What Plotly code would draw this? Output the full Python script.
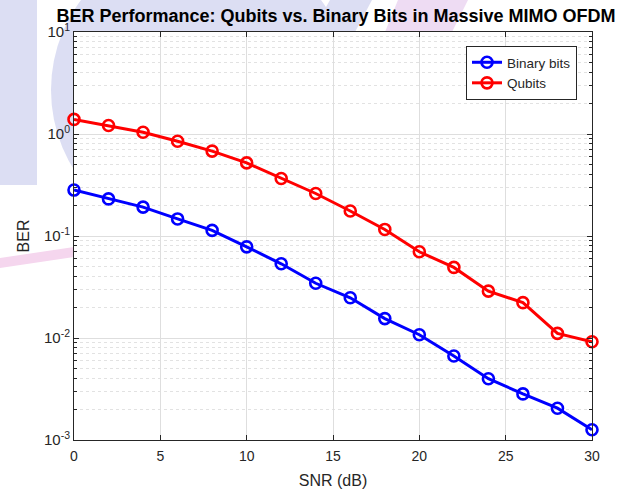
import plotly.graph_objects as go

snr = [0, 2, 4, 6, 8, 10, 12, 14, 16, 18, 20, 22, 24, 26, 28, 30]
ber_binary = [0.282, 0.231, 0.192, 0.147, 0.1135, 0.0783, 0.0534, 0.0344,
              0.0248, 0.0155, 0.01076, 0.00667, 0.00399, 0.00283, 0.00205, 0.00126]
ber_qubits = [1.39, 1.21, 1.04, 0.85, 0.68, 0.521, 0.366, 0.261,
              0.176, 0.116, 0.070, 0.0492, 0.0288, 0.0222, 0.0111, 0.0092]

y_tick_vals = [1e-3, 1e-2, 1e-1, 1e0, 1e1]
y_tick_text = ["10<sup>-3</sup>", "10<sup>-2</sup>", "10<sup>-1</sup>",
               "10<sup>0</sup>", "10<sup>1</sup>"]
y_minor_vals = [k * 10.0 ** e for e in range(-3, 1) for k in range(2, 10)]

FONT = "Liberation Sans, Arial, Helvetica, sans-serif"
W, H = 621, 492
L, R, T, B = 74, 29, 32, 52
PW, PH = W - L - R, H - T - B


def px(x):
    return (x - L) / PW


def py(y):
    return 1 - (y - T) / PH


fig = go.Figure()
fig.add_trace(go.Scatter(
    x=snr, y=ber_binary, name="Binary bits", mode="lines+markers",
    line=dict(color="#0000ff", width=3),
    marker=dict(symbol="circle-open", size=11, color="#0000ff", line=dict(width=2.6)),
    cliponaxis=False,
))
fig.add_trace(go.Scatter(
    x=snr, y=ber_qubits, name="Qubits", mode="lines+markers",
    line=dict(color="#ff0000", width=3),
    marker=dict(symbol="circle-open", size=11, color="#ff0000", line=dict(width=2.6)),
    cliponaxis=False,
))

LAV = "#dcdef3"
shapes = [
    dict(type="rect", xref="paper", yref="paper", x0=px(0), x1=px(37),
         y0=py(0), y1=py(185), fillcolor=LAV, line=dict(width=0), layer="below"),
    dict(type="circle", xref="paper", yref="paper", x0=px(51), x1=px(351),
         y0=py(-60), y1=py(240), fillcolor=LAV, line=dict(width=0), layer="below"),
    dict(type="path", xref="paper", yref="paper",
         path="M %f %f L %f %f L %f %f L %f %f Z" % (
             px(0), py(258), px(74), py(247), px(74), py(257), px(0), py(268)),
         fillcolor="#f5d6ee", line=dict(width=0), layer="below"),
    dict(type="path", xref="paper", yref="paper",
         path="M %f %f L %f %f L %f %f L %f %f Z" % (
             px(330), py(0), px(372), py(0), px(355), py(32), px(312), py(32)),
         fillcolor=LAV, line=dict(width=0), layer="below"),
    dict(type="path", xref="paper", yref="paper",
         path="M %f %f L %f %f L %f %f L %f %f Z" % (
             px(398), py(0), px(468), py(0), px(452), py(32), px(385), py(32)),
         fillcolor="#eedcf3", line=dict(width=0), layer="below"),
    # opaque white axes background
    dict(type="rect", xref="paper", yref="paper", x0=0, x1=1, y0=0, y1=1,
         fillcolor="white", line=dict(width=0), layer="below"),
]

fig.update_layout(
    width=W, height=H,
    margin=dict(l=L, r=R, t=T, b=B),
    paper_bgcolor="white", plot_bgcolor="rgba(0,0,0,0)",
    font=dict(family=FONT, size=13, color="#262626"),
    title=dict(text="<b>BER Performance: Qubits vs. Binary Bits in Massive MIMO OFDM</b>",
               x=336 / W, xanchor="center", y=1 - 16 / H, yanchor="middle",
               font=dict(family=FONT, size=18, color="#000000")),
    showlegend=True,
    legend=dict(x=px(577), xanchor="right", y=py(46), yanchor="top",
                bgcolor="white", bordercolor="#262626", borderwidth=1,
                font=dict(family=FONT, size=13.5, color="#262626"),
                tracegroupgap=0, itemwidth=30),
    shapes=shapes,
)

fig.update_xaxes(
    range=[0, 30], dtick=5, tick0=0, automargin=False,
    showline=True, linecolor="#262626", linewidth=1, mirror="allticks",
    ticks="inside", ticklen=5, tickcolor="#262626", ticklabelstandoff=3,
    showgrid=True, gridcolor="#dedede", gridwidth=1, zeroline=False,
    title=dict(text="SNR (dB)", font=dict(family=FONT, size=16, color="#262626"), standoff=12),
    tickfont=dict(family=FONT, size=14, color="#262626"),
)
fig.update_yaxes(
    type="log", range=[-3, 1], automargin=False,
    tickmode="array", tickvals=y_tick_vals, ticktext=y_tick_text,
    showline=True, linecolor="#262626", linewidth=1, mirror="allticks",
    ticks="inside", ticklen=5, tickcolor="#262626",
    showgrid=True, gridcolor="#dedede", gridwidth=1, zeroline=False,
    minor=dict(tickmode="array", tickvals=y_minor_vals, ticks="inside", ticklen=3,
               tickcolor="#262626", showgrid=True, gridcolor="#e2e2e2", griddash="dot",
               gridwidth=1),
    title=dict(text="BER", font=dict(family=FONT, size=16, color="#262626"), standoff=10),
    tickfont=dict(family=FONT, size=15, color="#262626"),
)

fig.write_html("out.html",
               config={"displayModeBar": False},
               post_script="document.body.style.margin='0px';document.body.style.overflow='hidden';")
